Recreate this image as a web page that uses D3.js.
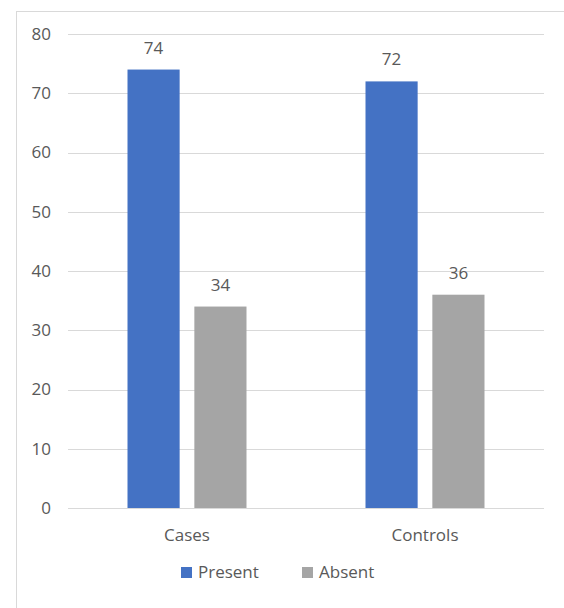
<!DOCTYPE html>
<html>
<head>
<meta charset="utf-8">
<script src="https://cdn.jsdelivr.net/npm/d3@7"></script>
<style>
  body { margin: 0; background: #fff; }
  svg text { font-family: "Open Sans", "Liberation Sans", sans-serif; fill: #595959; }
</style>
</head>
<body>
<svg id="chart" width="564" height="608"></svg>
<script>
const categories = ["Cases", "Controls"];
const seriesNames = ["Present", "Absent"];
const present = [74, 72];
const absent = [34, 36];
const yTicks = [0, 10, 20, 30, 40, 50, 60, 70, 80];
const colors = ["#4472C4", "#A5A5A5"];

const svg = d3.select("#chart");
const fontSize = 17;

// chart frame (runs off the right and bottom edge)
svg.append("rect")
  .attr("x", 16.5).attr("y", 11.5)
  .attr("width", 600).attr("height", 700)
  .attr("fill", "#fff")
  .attr("stroke", "#d9d9d9");

const plot = { left: 68, right: 544, top: 34, bottom: 508 };

const y = d3.scaleLinear().domain([0, 80]).range([plot.bottom, plot.top]);

const x0 = d3.scaleBand()
  .domain(categories)
  .range([plot.left, plot.right])
  .paddingInner(0.5)
  .paddingOuter(0.25);

const x1 = d3.scaleBand()
  .domain(seriesNames)
  .range([0, x0.bandwidth()])
  .paddingInner(0.22);

// gridlines
svg.append("g")
  .selectAll("line")
  .data(yTicks)
  .enter()
  .append("line")
  .attr("x1", plot.left)
  .attr("x2", plot.right)
  .attr("y1", (d) => Math.round(y(d)) + 0.5)
  .attr("y2", (d) => Math.round(y(d)) + 0.5)
  .style("stroke", "#d9d9d9")
  .style("stroke-width", 1);

// y axis labels
const yAxis = d3.axisLeft(y).tickValues(yTicks).tickSize(0).tickPadding(0);
const yg = svg.append("g")
  .attr("transform", `translate(${plot.left - 17},0)`)
  .call(yAxis);
yg.select(".domain").remove();
yg.selectAll("text")
  .attr("font-size", fontSize)
  .style("font-family", '"Open Sans", "Liberation Sans", sans-serif')
  .attr("fill", "#595959");

const data = categories.map((c, i) => ({
  category: c,
  values: [
    { series: "Present", value: present[i] },
    { series: "Absent", value: absent[i] },
  ],
}));

const groups = svg.append("g")
  .selectAll("g")
  .data(data)
  .enter()
  .append("g")
  .attr("transform", (d) => `translate(${x0(d.category)},0)`);

groups.selectAll("rect")
  .data((d) => d.values)
  .enter()
  .append("rect")
  .attr("x", (d) => x1(d.series))
  .attr("y", (d) => y(d.value))
  .attr("width", x1.bandwidth())
  .attr("height", (d) => y(0) - y(d.value))
  .attr("fill", (d, i) => colors[i]);

groups.selectAll("text")
  .data((d) => d.values)
  .enter()
  .append("text")
  .attr("x", (d) => x1(d.series) + x1.bandwidth() / 2)
  .attr("y", (d) => y(d.value) - 16)
  .attr("text-anchor", "middle")
  .attr("font-size", fontSize)
  .text((d) => d.value);

// x axis labels
const xAxis = d3.axisBottom(x0).tickSize(0).tickPadding(0);
const xg = svg.append("g")
  .attr("transform", `translate(0,${plot.bottom + 21})`)
  .call(xAxis);
xg.select(".domain").remove();
xg.selectAll("text")
  .attr("font-size", fontSize)
  .style("font-family", '"Open Sans", "Liberation Sans", sans-serif')
  .attr("fill", "#595959");

// legend
const legendX = [181, 302];
const legend = svg.append("g")
  .selectAll("g")
  .data(seriesNames)
  .enter()
  .append("g")
  .attr("transform", (d, i) => `translate(${legendX[i]},567)`);

legend.append("rect")
  .attr("width", 11).attr("height", 11)
  .attr("fill", (d, i) => colors[i]);

legend.append("text")
  .attr("x", 17)
  .attr("y", 11)
  .attr("font-size", fontSize)
  .text((d) => d);
</script>
</body>
</html>
